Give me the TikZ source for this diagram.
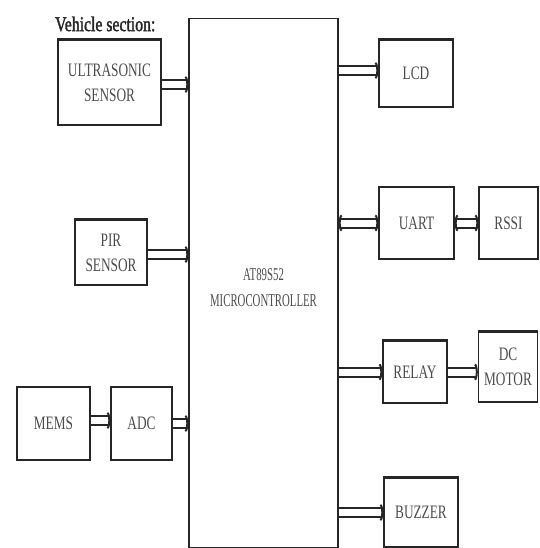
\documentclass[tikz,border=0pt]{standalone}
\usepackage{fontspec}
\setmainfont{Liberation Serif}
\newfontfamily\condf[FakeStretch=0.7]{Liberation Serif}
\newfontfamily\condm[FakeStretch=0.6]{Liberation Serif}
\newfontfamily\condb[FakeStretch=0.75,FakeBold=1.5]{Liberation Serif}
\usetikzlibrary{arrows.meta}
\begin{document}
\begin{tikzpicture}[x=1pt,y=-1pt,
  blk/.style={draw=black!85,line width=1.4pt,inner sep=0pt,align=center,
    font=\condf\fontsize{19}{21}\selectfont,text=black!70},
  tip/.tip={Arc Barb[width=17pt,length=3pt,line width=2pt]},
  dar/.style={draw=black!85,double=white,double distance=7pt,line width=2pt,-tip},
  bar/.style={draw=black!85,double=white,double distance=7pt,line width=2pt,tip-tip},
  topbar/.style={line width=3.2pt,draw=black!85}]
\useasboundingbox (0,0) rectangle (539,548);
\node[blk,minimum width=149pt,minimum height=529pt] (mc) at (263.5,283) {};
\node[align=center,inner sep=0pt,font=\condm\fontsize{18}{20}\selectfont,text=black!70] (mctext) at (263.5,288) {AT89S52\\[6pt]MICROCONTROLLER};
\node[anchor=west,inner sep=0pt,font=\condb\fontsize{21}{23}\selectfont,text=black!85] (title) at (55,24) {Vehicle section:};
\node[blk,minimum width=103pt,minimum height=85pt] (ultra) at (109.5,82.5) {ULTRASONIC\\[4pt]SENSOR};
\node[blk,minimum width=74pt,minimum height=67pt] (lcd) at (416,73.5) {LCD};
\node[blk,minimum width=72pt,minimum height=65pt] (pir) at (111,252.5) {PIR\\[4pt]SENSOR};
\node[blk,minimum width=75pt,minimum height=72pt] (uart) at (416.5,223) {UART};
\node[blk,minimum width=59pt,minimum height=72pt] (rssi) at (508.5,223) {RSSI};
\node[blk,minimum width=73pt,minimum height=73pt] (mems) at (53.5,423.5) {MEMS};
\node[blk,minimum width=61pt,minimum height=73pt] (adc) at (141.5,423.5) {ADC};
\node[blk,minimum width=64pt,minimum height=62pt] (relay) at (415,372) {RELAY};
\node[blk,minimum width=59pt,minimum height=70pt] (dcm) at (508,367) {DC\\[4pt]MOTOR};
\node[blk,minimum width=74pt,minimum height=69pt] (buzzer) at (421,512.5) {BUZZER};
\foreach \n in {ultra,lcd,pir,relay,dcm,buzzer}
  \draw[topbar] (\n.north west) -- (\n.north east);
\draw[dar] ([yshift=-2pt]ultra.east) -- ([yshift=-2pt]ultra.east -| mc.west);
\draw[dar] ([yshift=-2pt]pir.east) -- ([yshift=-2pt]pir.east -| mc.west);
\draw[dar] ([yshift=3pt]mems.east) -- ([yshift=3pt]adc.west);
\draw[dar] (adc.east) -- (adc.east -| mc.west);
\draw[dar] ([yshift=3pt]lcd.west -| mc.east) -- ([yshift=3pt]lcd.west);
\draw[bar] (uart.west -| mc.east) -- (uart.west);
\draw[bar] (uart.east) -- (rssi.west);
\draw[dar] (relay.west -| mc.east) -- (relay.west);
\draw[dar] (relay.east) -- (relay.east -| dcm.west);
\draw[dar] (buzzer.west -| mc.east) -- (buzzer.west);
\end{tikzpicture}
\end{document}
